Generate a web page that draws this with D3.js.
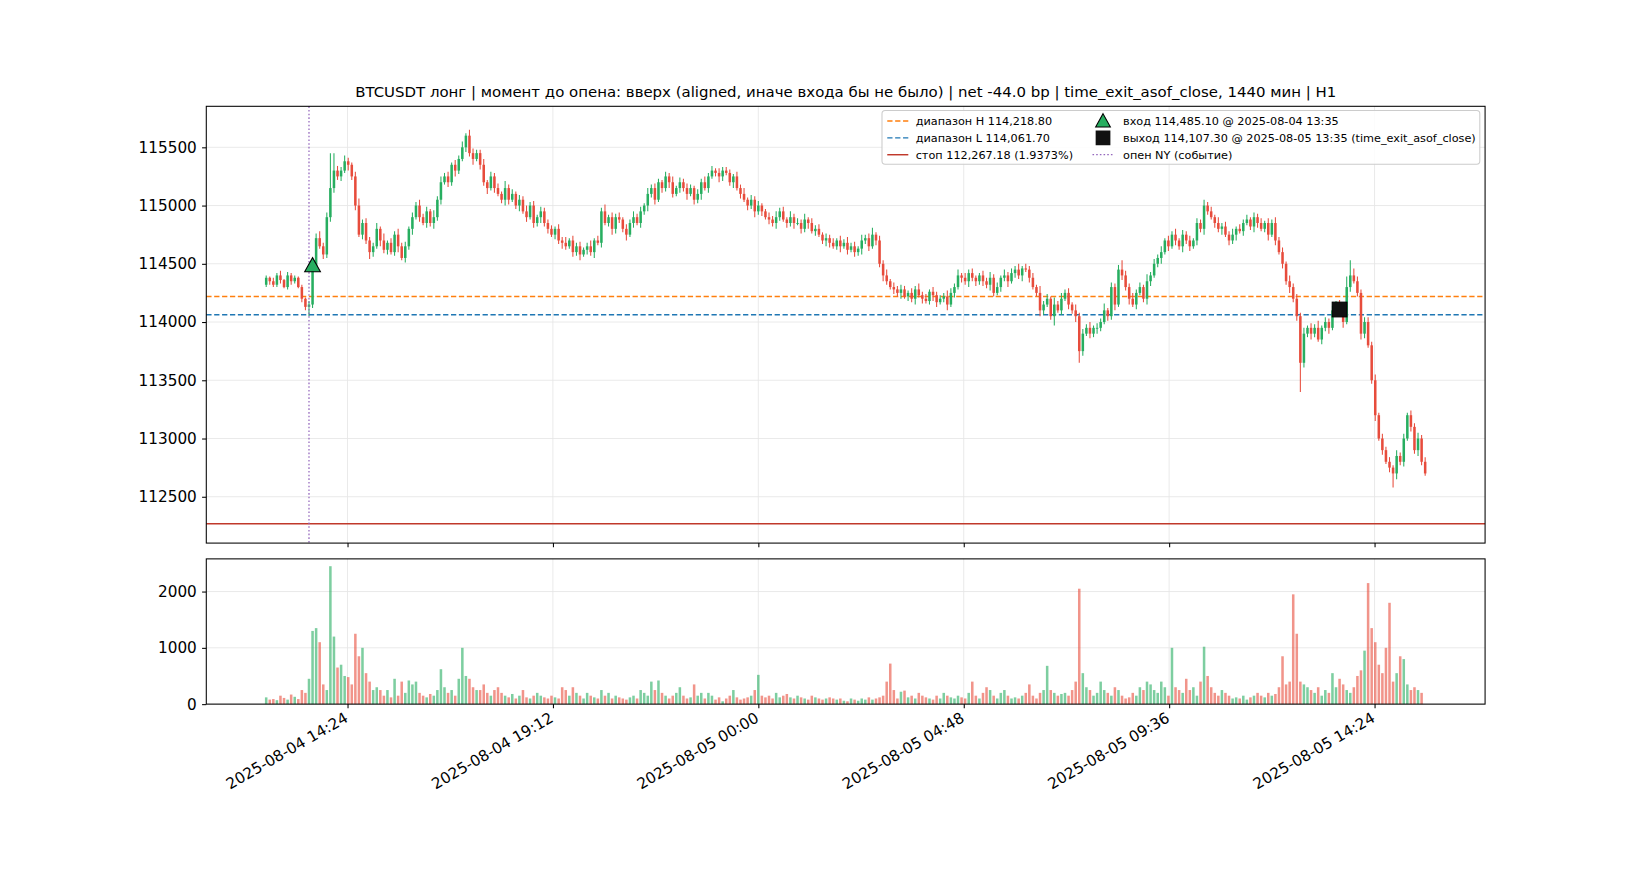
<!DOCTYPE html>
<html>
<head>
<meta charset="utf-8">
<script src="https://cdn.jsdelivr.net/npm/d3@7"></script>
<style>
  body { margin: 0; background: #fff; }
  text { font-family: "DejaVu Sans", sans-serif; fill: #000; }
</style>
</head>
<body>
<div id="container"></div>
<script>
// 5-minute candles from 2025-08-04 12:30, closes
var startMin = 750;   // minutes since 2025-08-04 00:00
var stepMin = 5;
var closes = [
  114380,114350,114320,114400,114360,114300,114400,114350,114380,114300,
  114200,114130,114150,114480,114720,114650,114580,114900,115150,115300,
  115250,115300,115380,115350,115250,115000,114750,114850,114700,114600,
  114650,114800,114700,114620,114680,114600,114750,114650,114550,114650,
  114800,114900,115000,114900,114850,114950,114850,114900,115050,115200,
  115250,115200,115350,115300,115400,115500,115600,115450,115400,115450,
  115350,115200,115150,115250,115150,115100,115050,115150,115050,115100,
  115000,115050,114950,114900,115000,114850,114900,114950,114850,114800,
  114750,114800,114700,114680,114650,114700,114600,114650,114580,114620,
  114650,114600,114700,114680,114950,114850,114900,114800,114900,114880,
  114800,114750,114850,114900,114850,114950,115000,115100,115150,115050,
  115200,115150,115250,115200,115100,115150,115200,115150,115100,115150,
  115050,115100,115200,115150,115250,115300,115280,115250,115300,115280,
  115200,115250,115150,115100,115050,115000,115050,114950,115000,114950,
  114900,114880,114850,114900,114950,114880,114850,114900,114850,114850,
  114800,114880,114850,114780,114800,114750,114700,114720,114680,114650,
  114700,114650,114680,114620,114650,114600,114630,114700,114720,114650,
  114750,114700,114500,114400,114350,114300,114280,114250,114280,114220,
  114250,114200,114280,114230,114200,114180,114260,114230,114170,114200,
  114220,114150,114250,114300,114400,114380,114350,114420,114380,114350,
  114400,114350,114320,114380,114250,114300,114380,114400,114350,114420,
  114450,114400,114460,114450,114380,114300,114250,114100,114150,114200,
  114050,114150,114100,114200,114250,114150,114100,114050,113750,113900,
  113950,113900,113950,113950,114000,114100,114050,114300,114150,114450,
  114400,114300,114200,114150,114250,114300,114200,114350,114400,114500,
  114550,114600,114700,114650,114750,114700,114650,114750,114700,114650,
  114700,114850,114800,115000,114950,114900,114850,114800,114820,114750,
  114700,114750,114800,114780,114850,114880,114820,114900,114850,114800,
  114850,114750,114850,114700,114600,114500,114350,114300,114200,114050,
  113650,113900,113950,113900,113950,113850,113950,114000,113950,114100,
  114150,114100,114000,114300,114400,114350,114250,113900,114000,113800,
  113500,113200,113000,112900,112800,112750,112700,112850,112800,113000,
  113200,113100,112900,113000,112800,112700
];
var firstOpen = 114320;
// wick lengths above / below the body, in tens of USDT, one base-36 digit per candle
var wickUp = "2132413221" + "21324634uf" + "4353246343" + "3526243534" + "2435342635" + "3424352543" +
  "3524342634" + "2435342433" + "3243524342" + "3524362434" + "2435342534" + "3243524343" +
  "2435342433" + "3243524342" + "2435342534" + "3524342434" + "2435342534" + "6243524343" +
  "2435342433" + "3543524342" + "2435342534" + "3524342634" + "2635342534" + "3524362434" +
  "8435342634" + "3524352434" + "2435342534" + "3524342434" + "2435342534" + "3524362434" +
  "3439d64344" + "3524342534" + "243534";
var wickDn = "2322312321" + "3383424344" + "3425342436" + "4253423524" + "3524243534" + "2435324352" +
  "4352423542" + "3524243534" + "2435324352" + "4352423543" + "3524243534" + "2435324352" +
  "4352423542" + "3524243534" + "2435324352" + "4352423542" + "3524243534" + "2435324352" +
  "4352423542" + "3524243534" + "3435324352" + "4352423542" + "38242435a4" + "2435324352" +
  "4352423542" + "3524243534" + "2435324352" + "4352423542" + "3524243534" + "p435324352" +
  "4352423542" + "352424c534" + "243532";
var volumes = [
  120,80,90,70,150,110,80,170,130,90,
  250,200,450,1300,1350,1100,350,250,2450,1200,
  650,700,500,480,350,1250,850,1000,550,400,
  250,300,250,150,250,120,450,150,400,200,
  420,350,400,200,150,120,180,150,250,620,
  300,200,250,150,450,1000,500,450,300,250,
  250,350,200,150,250,300,200,150,120,180,
  100,150,250,120,100,150,200,150,120,100,
  150,120,100,300,250,150,300,200,150,100,
  200,150,120,100,250,150,200,100,150,120,
  100,80,120,150,100,250,200,150,400,250,
  420,200,150,100,150,200,300,150,100,120,
  350,150,200,100,200,150,80,120,50,100,
  150,250,120,80,100,120,150,250,520,150,
  120,150,100,200,120,150,180,120,100,150,
  120,100,80,150,120,100,80,100,120,100,
  80,100,60,50,100,80,60,100,80,120,
  80,100,120,150,400,720,250,100,220,240,
  120,150,100,200,150,120,100,80,150,100,
  200,150,120,100,150,120,100,200,400,150,
  100,200,300,250,150,100,200,250,150,100,
  120,100,150,200,350,150,100,200,250,680,
  250,200,150,180,200,150,250,400,2050,550,
  300,250,150,200,400,250,200,150,300,250,
  150,100,120,200,150,300,250,400,350,250,
  200,400,300,150,1000,300,250,200,450,250,
  300,150,400,1020,500,300,200,150,250,200,
  150,100,120,100,150,80,120,150,200,150,
  120,200,150,180,300,850,350,400,1950,1250,
  400,350,300,250,200,300,150,250,200,550,
  300,450,350,250,200,300,500,600,950,2150,
  1350,1100,700,550,1000,1800,400,550,850,800,
  350,250,300,250,200
];
var priceTicks = [112500, 113000, 113500, 114000, 114500, 115000, 115500];
var volTicks = [0, 1000, 2000];
var timeTicks = [864, 1152, 1440, 1728, 2016, 2304];  // every 4h48m from 2025-08-04 14:24

var rangeH = 114218.80, rangeL = 114061.70, stopPx = 112267.18;
var entryMin = 815, entryPx = 114485.10;
var exitMin = 1440 + 815, exitPx = 114107.30;
var nyOpenMin = 810;

var title = "BTCUSDT лонг | момент до опена: вверх (aligned, иначе входа бы не было) | net -44.0 bp | time_exit_asof_close, 1440 мин | H1";

var green = "#27ae60", red = "#e74c3c";

// build candles
var candles = closes.map(function(c, i) {
  var o = i === 0 ? firstOpen : closes[i - 1];
  return {
    t: startMin + i * stepMin, o: o, c: c,
    h: Math.max(o, c) + parseInt(wickUp[i], 36) * 10,
    l: Math.min(o, c) - parseInt(wickDn[i], 36) * 10,
    v: volumes[i]
  };
});

var svg = d3.select("#container").append("svg").attr("width", 1650).attr("height", 880);
var g = svg.append("g").attr("transform", "scale(1.0525)");

var L = 196, R = 1411;
var x = d3.scaleLinear().domain([666, 2459]).range([L, R]);
var y = d3.scaleLinear().domain([112102, 115852]).range([516, 101]);
var yv = d3.scaleLinear().domain([0, 2580]).range([669, 531]);

function fmtTime(m) {
  var day = m < 1440 ? "2025-08-04" : "2025-08-05";
  var mm = m % 1440;
  return day + " " + d3.format("02d")(Math.floor(mm / 60)) + ":" + d3.format("02d")(mm % 60);
}

g.append("text").attr("x", (L + R) / 2).attr("y", 92).attr("text-anchor", "middle")
  .style("font-size", "14.2px").text(title);

// grids
function grid(sel, yScale, ticks, top, bottom) {
  sel.selectAll(null).data(ticks).enter().append("line")
    .attr("x1", L).attr("x2", R).attr("y1", yScale).attr("y2", yScale)
    .attr("stroke", "#e6e6e6").attr("stroke-width", 0.8);
  sel.selectAll(null).data(timeTicks).enter().append("line")
    .attr("x1", x).attr("x2", x).attr("y1", top).attr("y2", bottom)
    .attr("stroke", "#e6e6e6").attr("stroke-width", 0.8);
}
grid(g.append("g"), y, priceTicks, 101, 516);
grid(g.append("g"), yv, volTicks, 531, 669);

// level lines
g.append("line").attr("x1", L).attr("x2", R).attr("y1", y(rangeH)).attr("y2", y(rangeH))
  .attr("stroke", "#ff7f0e").attr("stroke-width", 1.4).attr("stroke-dasharray", "5,2.5");
g.append("line").attr("x1", L).attr("x2", R).attr("y1", y(rangeL)).attr("y2", y(rangeL))
  .attr("stroke", "#1f77b4").attr("stroke-width", 1.4).attr("stroke-dasharray", "5,2.5");
g.append("line").attr("x1", L).attr("x2", R).attr("y1", y(stopPx)).attr("y2", y(stopPx))
  .attr("stroke", "#c0392b").attr("stroke-width", 1.4);

// candles
var bw = 2.4;
var cg = g.append("g");
cg.selectAll("line").data(candles).enter().append("line")
  .attr("x1", function(d) { return x(d.t); }).attr("x2", function(d) { return x(d.t); })
  .attr("y1", function(d) { return y(d.h); }).attr("y2", function(d) { return y(d.l); })
  .attr("stroke", function(d) { return d.c >= d.o ? green : red; }).attr("stroke-width", 1);
cg.selectAll("rect").data(candles).enter().append("rect")
  .attr("x", function(d) { return x(d.t) - bw / 2; }).attr("width", bw)
  .attr("y", function(d) { return y(Math.max(d.o, d.c)); })
  .attr("height", function(d) { return Math.max(0.8, Math.abs(y(d.o) - y(d.c))); })
  .attr("fill", function(d) { return d.c >= d.o ? green : red; });

// NY open
g.append("line").attr("x1", x(nyOpenMin)).attr("x2", x(nyOpenMin)).attr("y1", 101).attr("y2", 516)
  .attr("stroke", "#9467bd").attr("stroke-width", 1.2).attr("stroke-dasharray", "1.5,2");

// entry / exit markers
function tri(cx, cy, s) { return "M" + cx + "," + (cy - s) + "L" + (cx + s) + "," + (cy + s * 0.8) + "L" + (cx - s) + "," + (cy + s * 0.8) + "Z"; }
g.append("path").attr("d", tri(x(entryMin), y(entryPx), 7.5)).attr("fill", green).attr("stroke", "#000").attr("stroke-width", 1);
g.append("rect").attr("x", x(exitMin) - 7).attr("y", y(exitPx) - 7).attr("width", 14).attr("height", 14)
  .attr("fill", "#111").attr("stroke", "#000");

// volume bars
var vg = g.append("g");
vg.selectAll("rect").data(candles).enter().append("rect")
  .attr("x", function(d) { return x(d.t) - 1.2; }).attr("width", 2.4)
  .attr("y", function(d) { return yv(d.v); })
  .attr("height", function(d) { return 669 - yv(d.v); })
  .attr("fill", function(d) { return d.c >= d.o ? green : red; }).attr("opacity", 0.6);

// frames
g.append("rect").attr("x", L).attr("y", 101).attr("width", R - L).attr("height", 415)
  .attr("fill", "none").attr("stroke", "#000").attr("stroke-width", 1);
g.append("rect").attr("x", L).attr("y", 531).attr("width", R - L).attr("height", 138)
  .attr("fill", "none").attr("stroke", "#000").attr("stroke-width", 1);

// axes
var yAxis = d3.axisLeft(y).tickValues(priceTicks).tickFormat(d3.format("d")).tickSize(4).tickPadding(5);
g.append("g").attr("transform", "translate(" + L + ",0)").call(yAxis);
var yvAxis = d3.axisLeft(yv).tickValues(volTicks).tickFormat(d3.format("d")).tickSize(4).tickPadding(5);
g.append("g").attr("transform", "translate(" + L + ",0)").call(yvAxis);
g.append("g").attr("transform", "translate(0,516)")
  .call(d3.axisBottom(x).tickValues(timeTicks).tickFormat("").tickSize(4));
var xa = g.append("g").attr("transform", "translate(0,669)")
  .call(d3.axisBottom(x).tickValues(timeTicks).tickFormat(fmtTime).tickSize(4));
g.selectAll(".domain").remove();
g.selectAll(".tick text").style("font-size", "14.5px").style("font-family", "DejaVu Sans");
xa.selectAll("text").attr("text-anchor", "end").attr("dy", 0).attr("y", 0)
  .attr("transform", "translate(1,16) rotate(-30)");

// legend
var lg = g.append("g").attr("transform", "translate(838,105)");
lg.append("rect").attr("width", 568).attr("height", 51).attr("rx", 3)
  .attr("fill", "#fff").attr("fill-opacity", 0.85).attr("stroke", "#ccc");
var items1 = [
  ["dash", "#ff7f0e", "диапазон H " + d3.format(",.2f")(rangeH)],
  ["dash", "#1f77b4", "диапазон L " + d3.format(",.2f")(rangeL)],
  ["solid", "#c0392b", "стоп " + d3.format(",.2f")(stopPx) + " (1.9373%)"]
];
items1.forEach(function(it, i) {
  var yy = 10 + i * 16;
  lg.append("line").attr("x1", 5).attr("x2", 25).attr("y1", yy).attr("y2", yy)
    .attr("stroke", it[1]).attr("stroke-width", 1.4).attr("stroke-dasharray", it[0] === "dash" ? "5,2.5" : null);
  lg.append("text").attr("x", 32).attr("y", yy + 3.8).style("font-size", "10.7px").text(it[2]);
});
lg.append("path").attr("d", tri(210, 10, 7)).attr("fill", green).attr("stroke", "#000");
lg.append("text").attr("x", 229).attr("y", 13.8).style("font-size", "10.7px")
  .text("вход " + d3.format(",.2f")(entryPx) + " @ 2025-08-04 13:35");
lg.append("rect").attr("x", 203).attr("y", 19).attr("width", 14).attr("height", 14).attr("fill", "#111");
lg.append("text").attr("x", 229).attr("y", 29.8).style("font-size", "10.7px")
  .text("выход " + d3.format(",.2f")(exitPx) + " @ 2025-08-05 13:35 (time_exit_asof_close)");
lg.append("line").attr("x1", 200).attr("x2", 220).attr("y1", 42).attr("y2", 42)
  .attr("stroke", "#9467bd").attr("stroke-width", 1.2).attr("stroke-dasharray", "1.5,2");
lg.append("text").attr("x", 229).attr("y", 45.8).style("font-size", "10.7px").text("опен NY (событие)");
</script>
</body>
</html>
